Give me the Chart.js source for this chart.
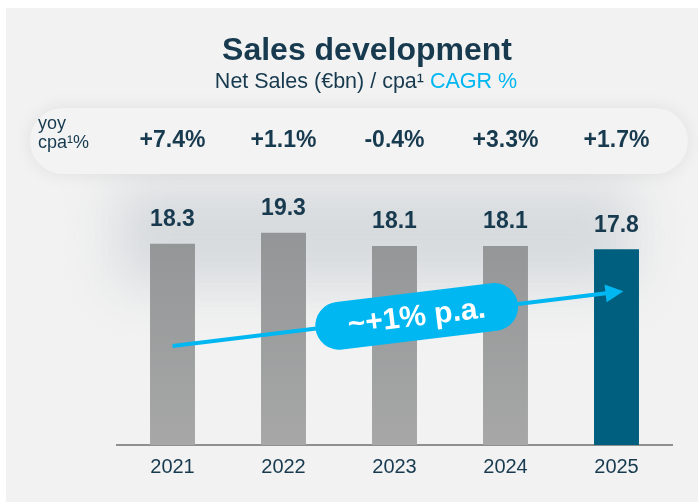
<!DOCTYPE html>
<html>
<head>
<meta charset="utf-8">
<script src="https://cdn.jsdelivr.net/npm/chart.js@4.4.1/dist/chart.umd.min.js"></script>
<style>
  html, body { margin: 0; padding: 0; background: #ffffff; }
  #wrap { width: 698px; height: 502px; }
</style>
</head>
<body>
<div id="wrap"><canvas id="sales" width="698" height="502"></canvas></div>
<script>
// values
const years = ["2021", "2022", "2023", "2024", "2025"];
const netSales = [18.3, 19.3, 18.1, 18.1, 17.8];
const yoyGrowth = ["+7.4%", "+1.1%", "-0.4%", "+3.3%", "+1.7%"];
const trendLine = [9.0, null, null, null, 13.9];
const trendLabel = "~+1% p.a.";

const navy = "#173a4f";
const sky = "#00b7f1";
const teal = "#005f7e";
const font = "'Liberation Sans', Arial, sans-serif";

function roundRect(ctx, x, y, w, h, r) {
    ctx.beginPath();
    ctx.moveTo(x + r, y);
    ctx.arcTo(x + w, y, x + w, y + h, r);
    ctx.arcTo(x + w, y + h, x, y + h, r);
    ctx.arcTo(x, y + h, x, y, r);
    ctx.arcTo(x, y, x + w, y, r);
    ctx.closePath();
}

const decor = {
    id: "decor",
    beforeDraw(chart) {
        let ctx = chart.ctx;
        let area = chart.chartArea;
        let xs = chart.scales.x;
        ctx.save();
        ctx.fillStyle = "#ffffff";
        ctx.fillRect(0, 0, chart.width, chart.height);
        ctx.fillStyle = "#f2f2f2";
        ctx.fillRect(6, 8, chart.width - 6, chart.height - 8);

        // soft darker glow behind the bar tops
        ctx.filter = "blur(26px)";
        ctx.fillStyle = "#d6dadd";
        ctx.fillRect(area.left, 185, area.right - area.left - 40, 100);
        ctx.filter = "none";

        // pill row with the yoy growth
        ctx.shadowColor = "rgba(0,0,0,0.08)";
        ctx.shadowBlur = 18;
        ctx.fillStyle = "#f3f3f3";
        roundRect(ctx, 30, 108, 658, 66, 33);
        ctx.fill();
        ctx.shadowColor = "transparent";

        // title + subtitle
        ctx.textAlign = "center";
        ctx.textBaseline = "middle";
        ctx.fillStyle = navy;
        ctx.font = "bold 32px " + font;
        ctx.fillText("Sales development", 367, 51);

        ctx.font = "21.5px " + font;
        let part1 = "Net Sales (€bn) / cpa¹ ";
        let part2 = "CAGR %";
        let w1 = ctx.measureText(part1).width;
        let w2 = ctx.measureText(part2).width;
        let sx = 366 - (w1 + w2) / 2;
        ctx.textAlign = "left";
        ctx.fillText(part1, sx, 82);
        ctx.fillStyle = sky;
        ctx.fillText(part2, sx + w1, 82);

        ctx.fillStyle = navy;
        ctx.font = "18px " + font;
        ctx.fillText("yoy", 38, 124);
        ctx.fillText("cpa¹%", 38, 143);

        ctx.textAlign = "center";
        ctx.font = "bold 23px " + font;
        yoyGrowth.forEach((g, i) => {
            ctx.fillText(g, xs.getPixelForValue(i), 141);
        });
        ctx.restore();
    },
    afterDatasetsDraw(chart) {
        let ctx = chart.ctx;
        ctx.save();
        // value labels
        let bars = chart.getDatasetMeta(0).data;
        ctx.fillStyle = navy;
        ctx.font = "bold 23px " + font;
        ctx.textAlign = "center";
        ctx.textBaseline = "middle";
        bars.forEach((b, i) => {
            ctx.fillText(netSales[i].toFixed(1), b.x, b.y - 24);
        });

        // arrow head + CAGR pill
        let pts = chart.getDatasetMeta(1).data;
        let p0 = pts[0], p1 = pts[pts.length - 1];
        let ang = Math.atan2(p1.y - p0.y, p1.x - p0.x);
        ctx.fillStyle = sky;
        ctx.save();
        ctx.translate(p1.x, p1.y);
        ctx.rotate(ang);
        ctx.beginPath();
        ctx.moveTo(7, 0);
        ctx.lineTo(-11, -9);
        ctx.lineTo(-11, 9);
        ctx.closePath();
        ctx.fill();
        ctx.restore();

        let cx = p0.x + (p1.x - p0.x) * 0.55;
        let cy = p0.y + (p1.y - p0.y) * 0.55;
        ctx.translate(cx, cy);
        ctx.rotate(ang);
        roundRect(ctx, -102, -24, 204, 48, 24);
        ctx.fill();
        ctx.fillStyle = "#ffffff";
        ctx.font = "bold 30px " + font;
        ctx.fillText(trendLabel, 0, 1);
        ctx.restore();
    }
};

new Chart(document.getElementById("sales"), {
    type: "bar",
    data: {
        labels: years,
        datasets: [
            {
                data: netSales,
                order: 1,
                barPercentage: 0.405,
                categoryPercentage: 1,
                backgroundColor: (c) => {
                    if (c.dataIndex === years.length - 1) return teal;
                    let area = c.chart.chartArea;
                    if (!area) return "#9d9e9f";
                    let g = c.chart.ctx.createLinearGradient(0, area.top, 0, area.bottom);
                    g.addColorStop(0, "#929596");
                    g.addColorStop(1, "#a7a7a7");
                    return g;
                }
            },
            {
                type: "line",
                data: trendLine,
                order: 0,
                borderColor: sky,
                borderWidth: 4,
                pointRadius: 0,
                spanGaps: true,
                fill: false
            }
        ]
    },
    options: {
        responsive: false,
        animation: false,
        layout: { padding: { left: 117, right: 26, top: 225, bottom: 13 } },
        plugins: {
            legend: { display: false },
            tooltip: { enabled: false }
        },
        scales: {
            x: {
                grid: { display: false, drawTicks: false },
                border: { display: true, color: "#8f8f8f", width: 2 },
                ticks: { color: navy, padding: 10, font: { size: 20, family: font } }
            },
            y: { display: false, min: 0, max: 20 }
        }
    },
    plugins: [decor]
});
</script>
</body>
</html>
